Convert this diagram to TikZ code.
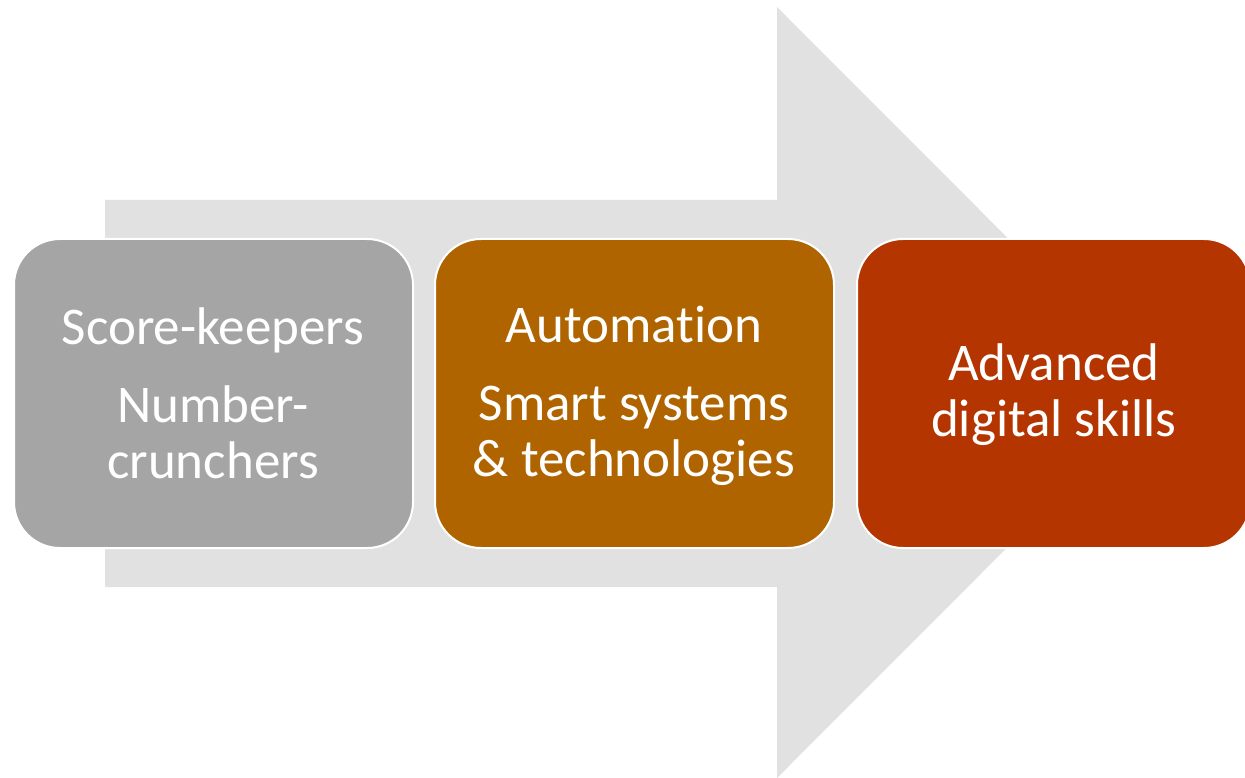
\documentclass[tikz,border=0pt]{standalone}
\usepackage{fontspec}
\setmainfont[RawFeature={-liga}]{Carlito}
\definecolor{arrowgray}{HTML}{E1E1E1}
\definecolor{boxgray}{HTML}{A5A5A5}
\definecolor{boxorange}{HTML}{AF6400}
\definecolor{boxred}{HTML}{B43500}
\begin{document}
\begin{tikzpicture}[x=1pt,y=-1pt,
  stagebox/.style={draw=white,line width=2pt,rounded corners=46pt},
  stagetext/.style={text=white,align=center,font=\fontsize{53}{56}\selectfont,inner sep=0pt}]
\useasboundingbox (0,0) rectangle (1245,778);
% big arrow
\fill[arrowgray] (105,200) -- (777,200) -- (777,7) -- (1162,392.5) -- (777,778) -- (777,587) -- (105,587) -- cycle;
% boxes
\draw[stagebox,fill=boxgray] (14,239) rectangle (413,548);
\draw[stagebox,fill=boxorange] (435,239) rectangle (834,548);
\draw[stagebox,fill=boxred] (857,239) rectangle (1250,548);
\node[stagetext] (t1) at (213,393.5) {Score-keepers\\[22pt]Number-\\crunchers};
\node[stagetext] (t2) at (634,395.5) {Automation\\[22pt]Smart systems\\\& technologies};
\node[stagetext] (t3) at (1054,395) {Advanced\\digital skills};
\end{tikzpicture}
\end{document}
